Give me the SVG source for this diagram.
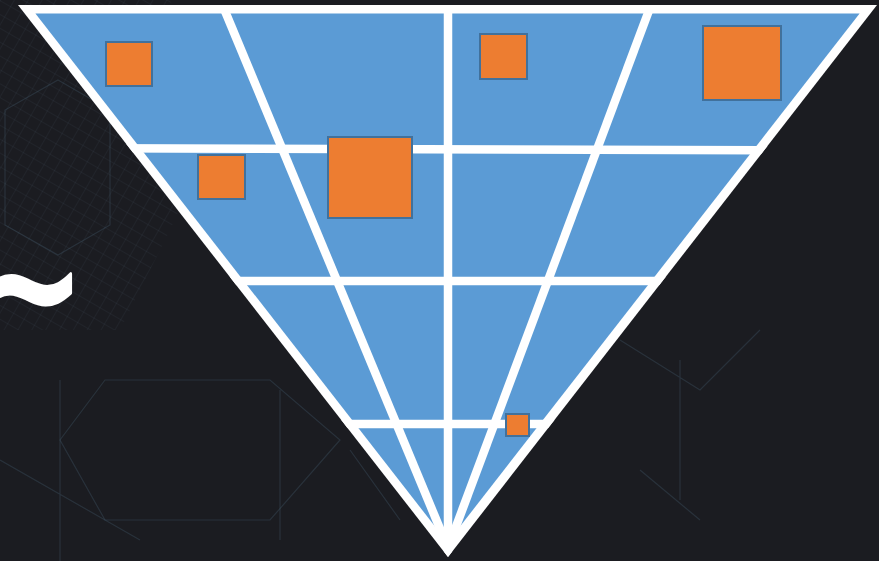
<svg xmlns="http://www.w3.org/2000/svg" width="879" height="561" viewBox="0 0 879 561">
  <defs>
    <style>
      .bg { fill: #1b1c21; }
      .hex { fill: none; stroke: #4a6478; stroke-width: 1.2; opacity: 0.3; }
      .mesh { fill: none; stroke: #4d6275; stroke-width: 0.8; opacity: 0.28; }
      .border { fill: #ffffff; }
      .inner { fill: #5b9bd5; }
      .grid { stroke: #ffffff; stroke-width: 8.5; fill: none; }
      .sq { fill: #ed7d31; stroke: #41719c; stroke-width: 2; }
      .tilde { font-family: "DejaVu Sans", sans-serif; font-weight: bold; fill: #ffffff; stroke: #ffffff; stroke-width: 2.5; stroke-linejoin: round; }
    </style>
    <clipPath id="tri">
      <polygon points="18,5 877,5 448,557"/>
    </clipPath>
    <pattern id="meshPat" width="12" height="12" patternUnits="userSpaceOnUse" patternTransform="rotate(30)">
      <path d="M0,0 L12,0 M0,0 L0,12" class="mesh"/>
    </pattern>
    <clipPath id="meshClip">
      <polygon points="0,0 170,0 220,120 170,230 120,330 0,330"/>
    </clipPath>
  </defs>

  <rect class="bg" x="0" y="0" width="879" height="561"/>

  <g id="background-lines">
    <rect x="0" y="0" width="240" height="340" fill="url(#meshPat)" clip-path="url(#meshClip)"/>
    <polygon class="hex" points="58,80 110,110 110,225 58,255 5,225 5,110"/>
    <polygon class="hex" points="105,380 270,380 340,440 270,520 105,520 60,440"/>
    <path class="hex" d="M0,460 L140,540 M60,380 L60,561 M280,390 L280,540 M330,330 L420,420 M350,450 L400,520"/>
    <path class="hex" d="M620,340 L700,390 L760,330 M640,470 L700,520 M680,360 L680,500"/>
  </g>

  <text class="tilde" x="-28" y="332" font-size="135" transform="translate(0,286) scale(1,1.2) translate(0,-286)">~</text>

  <g id="triangle">
    <polygon class="border" points="18,5 877,5 448,557"/>
    <polygon class="inner" points="35.4,13.5 859.6,13.5 447.5,542.5"/>
  </g>

  <g id="grid" clip-path="url(#tri)">
    <line class="grid" x1="0" y1="148" x2="879" y2="150.5"/>
    <line class="grid" x1="0" y1="281" x2="879" y2="281"/>
    <line class="grid" x1="0" y1="424" x2="879" y2="424"/>
    <line class="grid" x1="448" y1="5" x2="448" y2="557"/>
    <line class="grid" x1="222.5" y1="5" x2="448" y2="548"/>
    <line class="grid" x1="651" y1="5" x2="448" y2="548"/>
  </g>

  <g id="squares">
    <rect id="sq1" class="sq" x="106" y="42" width="46" height="44"/>
    <rect id="sq2" class="sq" x="198" y="155" width="47" height="44"/>
    <rect id="sq3" class="sq" x="328" y="137" width="84" height="81"/>
    <rect id="sq4" class="sq" x="480" y="34" width="47" height="45"/>
    <rect id="sq5" class="sq" x="703" y="26" width="78" height="74"/>
    <rect id="sq6" class="sq" x="506" y="414" width="23" height="22"/>
  </g>
</svg>
